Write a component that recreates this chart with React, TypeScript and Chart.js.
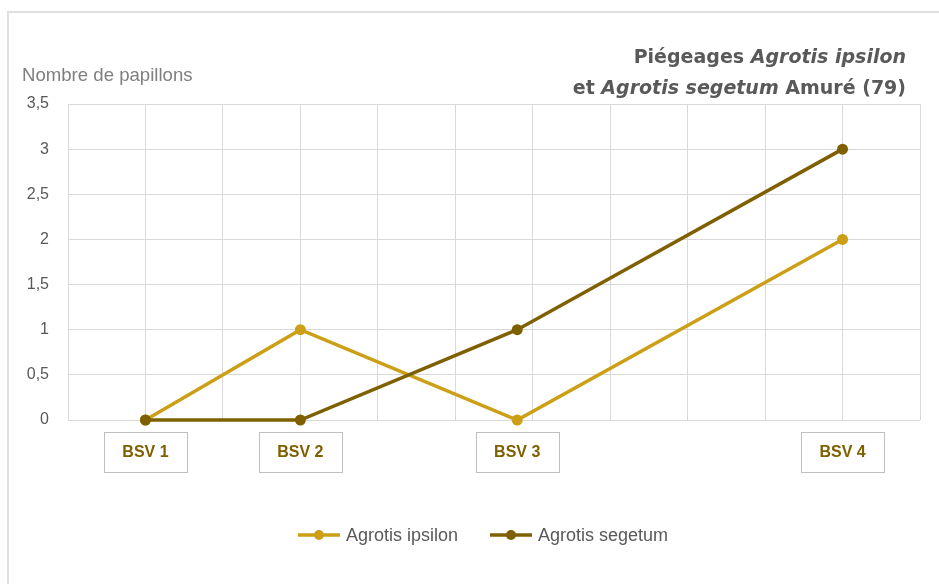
import React, { useEffect, useRef } from "react";
import { Chart, registerables } from "chart.js";

Chart.register(...registerables);

const categories = ["BSV 1", "BSV 2", "BSV 3", "BSV 4"];
const dayOffsets = [0, 10, 24, 45];
const ipsilonValues = [0, 1, 0, 2];
const segetumValues = [0, 0, 1, 3];
const seriesNames = ["Agrotis ipsilon", "Agrotis segetum"];
const seriesColors = ["#CC9F16", "#7F6000"];
const yAxisTitle = "Nombre de papillons";
const titleLine1 = [
  { text: "Piégeages ", italic: false },
  { text: "Agrotis ipsilon", italic: true },
];
const titleLine2 = [
  { text: "et ", italic: false },
  { text: "Agrotis segetum", italic: true },
  { text: " Amuré (79)", italic: false },
];

const SANS = '"Liberation Sans", Arial, sans-serif';
const TITLE_FONT = '"DejaVu Sans", Verdana, sans-serif';

const decorPlugin = {
  id: "decor",
  beforeDraw(chart: any) {
    const ctx = chart.ctx;
    ctx.save();
    ctx.strokeStyle = "#e0e0e0";
    ctx.lineWidth = 2;
    ctx.strokeRect(8, 12, chart.width + 20, chart.height + 20);
    ctx.restore();
  },
  afterDraw(chart: any) {
    const ctx = chart.ctx;
    const xs = chart.scales.x;
    const area = chart.chartArea;
    ctx.save();
    // y-axis title
    ctx.fillStyle = "#7F7F7F";
    ctx.font = `18.6px ${SANS}`;
    ctx.textBaseline = "alphabetic";
    ctx.textAlign = "left";
    ctx.fillText(yAxisTitle, 22, 81);

    // chart title (right aligned, mixed italics)
    const drawRich = (parts: any[], right: number, baseline: number) => {
      const fontFor = (p: any) => `${p.italic ? "italic " : ""}bold 19px ${TITLE_FONT}`;
      let total = 0;
      for (const p of parts) {
        ctx.font = fontFor(p);
        total += ctx.measureText(p.text).width;
      }
      let x = right - total;
      ctx.fillStyle = "#595959";
      ctx.textAlign = "left";
      for (const p of parts) {
        ctx.font = fontFor(p);
        ctx.fillText(p.text, x, baseline);
        x += ctx.measureText(p.text).width;
      }
    };
    drawRich(titleLine1, 906, 63);
    drawRich(titleLine2, 906, 94);

    // BSV boxes under the axis
    ctx.font = `bold 16px ${SANS}`;
    ctx.textAlign = "center";
    ctx.textBaseline = "middle";
    categories.forEach((c, i) => {
      const cx = xs.getPixelForValue(dayOffsets[i]);
      const w = 83;
      const h = 40;
      const top = area.bottom + 12;
      ctx.fillStyle = "#ffffff";
      ctx.fillRect(cx - w / 2, top, w, h);
      ctx.strokeStyle = "#BFBFBF";
      ctx.lineWidth = 1;
      ctx.strokeRect(Math.round(cx - w / 2) + 0.5, top + 0.5, w, h);
      ctx.fillStyle = "#7F6000";
      ctx.fillText(c, cx, top + h / 2 + 1);
    });

    // legend
    ctx.font = `18px ${SANS}`;
    ctx.textBaseline = "middle";
    ctx.textAlign = "left";
    const lineLen = 42;
    const gap = 6;
    const itemGap = 32;
    const widths = seriesNames.map((n) => lineLen + gap + ctx.measureText(n).width);
    const total = widths.reduce((a, b) => a + b, 0) + itemGap;
    let x = (area.left + area.right) / 2 - total / 2 - 11;
    const y = 535;
    seriesNames.forEach((n, i) => {
      ctx.strokeStyle = seriesColors[i];
      ctx.lineWidth = 3.5;
      ctx.beginPath();
      ctx.moveTo(x, y);
      ctx.lineTo(x + lineLen, y);
      ctx.stroke();
      ctx.fillStyle = seriesColors[i];
      ctx.beginPath();
      ctx.arc(x + lineLen / 2, y, 5, 0, Math.PI * 2);
      ctx.fill();
      ctx.fillStyle = "#595959";
      ctx.fillText(n, x + lineLen + gap, y + 1);
      x += widths[i] + itemGap;
    });
    ctx.restore();
  },
};

export default function App() {
  const ref = useRef<HTMLCanvasElement | null>(null);
  useEffect(() => {
    if (!ref.current) return;
    const mk = (i: number, vals: number[]) => ({
      label: seriesNames[i],
      data: dayOffsets.map((d, k) => ({ x: d, y: vals[k] })),
      borderColor: seriesColors[i],
      backgroundColor: seriesColors[i],
      borderWidth: 3.5,
      pointRadius: 5.5,
      pointBorderWidth: 0,
      tension: 0,
      clip: false,
      order: 1 - i,
    });
    const chart = new Chart(ref.current, {
      type: "line",
      data: {
        datasets: [mk(0, ipsilonValues), mk(1, segetumValues)],
      },
      options: {
        animation: false,
        responsive: true,
        maintainAspectRatio: false,
        layout: { padding: { top: 104, right: 19, bottom: 164, left: 0 } },
        plugins: {
          legend: { display: false },
          title: { display: false },
          tooltip: { enabled: false },
        },
        scales: {
          x: {
            type: "linear",
            min: -5,
            max: 50,
            ticks: { display: false, stepSize: 5 },
            grid: { color: "#D9D9D9", drawTicks: false },
            border: { display: false },
            afterFit: (s: any) => {
              s.height = 0;
            },
          },
          y: {
            min: 0,
            max: 3.5,
            ticks: {
              stepSize: 0.5,
              padding: 19,
              color: "#595959",
              font: { family: SANS, size: 16 },
              callback: (v: any) => String(v).replace(".", ","),
            },
            grid: { color: "#D9D9D9", drawTicks: false },
            border: { display: false },
            afterFit: (s: any) => {
              s.width = 68;
            },
          },
        },
      },
      plugins: [decorPlugin],
    } as any);
    return () => chart.destroy();
  }, []);
  return (
    <div style={{ position: "fixed", left: 0, top: 0, width: 939, height: 584, background: "#fff" }}>
      <canvas ref={ref} />
    </div>
  );
}
